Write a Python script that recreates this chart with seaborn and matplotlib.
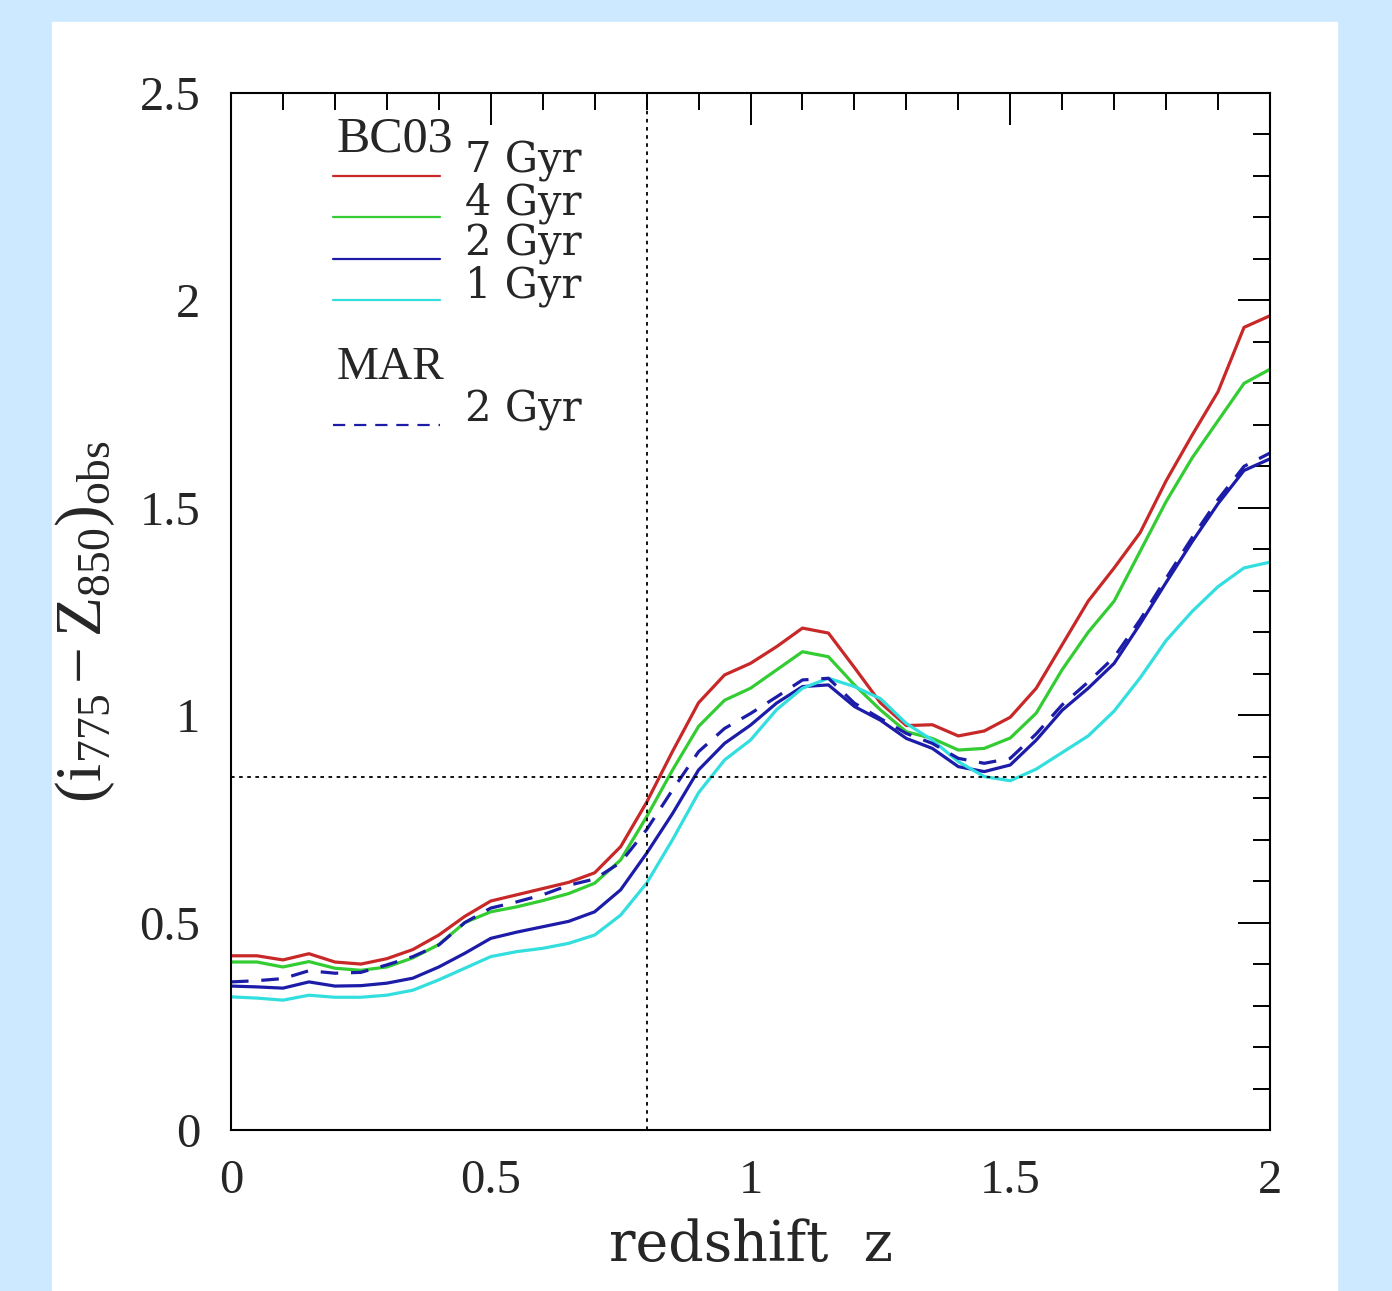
import numpy as np
import pandas as pd
import matplotlib
matplotlib.use("Agg")
import matplotlib.pyplot as plt
from matplotlib.ticker import MultipleLocator, FuncFormatter
from matplotlib.patches import Rectangle
import seaborn as sns

# data
redshift = [0.00, 0.05, 0.10, 0.15, 0.20, 0.25, 0.30, 0.35, 0.40, 0.45,
            0.50, 0.55, 0.60, 0.65, 0.70, 0.75, 0.80, 0.85, 0.90, 0.95,
            1.00, 1.05, 1.10, 1.15, 1.20, 1.25, 1.30, 1.35, 1.40, 1.45,
            1.50, 1.55, 1.60, 1.65, 1.70, 1.75, 1.80, 1.85, 1.90, 1.95, 2.00]

bc03_7gyr = [0.420, 0.420, 0.410, 0.425, 0.405, 0.400, 0.413, 0.435, 0.470, 0.515,
             0.552, 0.567, 0.582, 0.597, 0.620, 0.683, 0.790, 0.913, 1.030, 1.097,
             1.125, 1.165, 1.210, 1.198, 1.115, 1.030, 0.975, 0.977, 0.950, 0.962,
             0.995, 1.065, 1.170, 1.275, 1.355, 1.440, 1.565, 1.675, 1.780, 1.935, 1.963]

bc03_4gyr = [0.405, 0.405, 0.393, 0.406, 0.390, 0.385, 0.393, 0.415, 0.447, 0.500,
             0.526, 0.538, 0.553, 0.570, 0.595, 0.651, 0.755, 0.868, 0.973, 1.036,
             1.065, 1.109, 1.153, 1.141, 1.073, 1.013, 0.960, 0.944, 0.916, 0.920,
             0.945, 1.005, 1.110, 1.200, 1.275, 1.395, 1.515, 1.620, 1.710, 1.800, 1.834]

bc03_2gyr = [0.347, 0.345, 0.342, 0.357, 0.347, 0.348, 0.354, 0.366, 0.393, 0.426,
             0.462, 0.477, 0.490, 0.503, 0.526, 0.579, 0.667, 0.763, 0.868, 0.932,
             0.976, 1.029, 1.069, 1.073, 1.021, 0.988, 0.944, 0.920, 0.876, 0.864,
             0.880, 0.940, 1.012, 1.065, 1.125, 1.220, 1.320, 1.418, 1.510, 1.590, 1.618]

bc03_1gyr = [0.321, 0.318, 0.313, 0.325, 0.320, 0.320, 0.325, 0.337, 0.362, 0.390,
             0.418, 0.430, 0.438, 0.450, 0.470, 0.518, 0.595, 0.700, 0.813, 0.892,
             0.940, 1.013, 1.065, 1.089, 1.069, 1.040, 0.980, 0.940, 0.888, 0.852,
             0.842, 0.870, 0.910, 0.950, 1.010, 1.090, 1.180, 1.250, 1.310, 1.355, 1.369]

mar_2gyr = [0.357, 0.360, 0.365, 0.384, 0.378, 0.380, 0.398, 0.418, 0.446, 0.500,
            0.535, 0.550, 0.567, 0.590, 0.605, 0.645, 0.724, 0.820, 0.912, 0.968,
            1.004, 1.044, 1.085, 1.089, 1.029, 0.992, 0.956, 0.932, 0.896, 0.884,
            0.896, 0.955, 1.025, 1.080, 1.140, 1.230, 1.330, 1.428, 1.520, 1.600, 1.632]

bc03_labels = ["7 Gyr", "4 Gyr", "2 Gyr", "1 Gyr"]
mar_label = "2 Gyr"
z_cut = 0.8
color_cut = 0.85

RED = "#c82828"
GREEN = "#33cc33"
BLUE = "#1c1ca8"
CYAN = "#33dede"
DASH = (0, (5.5, 4))

sns.set_style("white")
plt.rcParams["font.family"] = ["Liberation Serif", "DejaVu Serif"]
plt.rcParams["mathtext.fontset"] = "custom"
plt.rcParams["mathtext.rm"] = "Liberation Serif"
plt.rcParams["mathtext.it"] = "Liberation Serif:italic"

fig = plt.figure(figsize=(13.92, 12.91), dpi=100, facecolor="#cce9ff")
fig.patches.append(Rectangle((52 / 1392, 0), (1337 - 52) / 1392, 1 - 22 / 1291,
                             transform=fig.transFigure, color="white", zorder=-10))
ax = fig.add_axes([231 / 1392, 1 - 1130 / 1291, (1270 - 231) / 1392, (1130 - 93) / 1291])
ax.set_facecolor("white")

df = pd.DataFrame({"z": redshift, "7": bc03_7gyr, "4": bc03_4gyr, "2": bc03_2gyr,
                   "1": bc03_1gyr, "mar": mar_2gyr})

lw = 2.3
sns.lineplot(data=df, x="z", y="7", color=RED, lw=lw, ax=ax)
sns.lineplot(data=df, x="z", y="4", color=GREEN, lw=lw, ax=ax)
sns.lineplot(data=df, x="z", y="2", color=BLUE, lw=lw, ax=ax)
sns.lineplot(data=df, x="z", y="1", color=CYAN, lw=lw, ax=ax)
sns.lineplot(data=df, x="z", y="mar", color=BLUE, lw=lw, linestyle=DASH, ax=ax)

ax.axvline(z_cut, color="black", lw=1.3, linestyle=(0, (2, 2.5)))
ax.axhline(color_cut, color="black", lw=1.3, linestyle=(0, (2, 2.5)))

ax.set_xlim(0, 2)
ax.set_ylim(0, 2.5)
ax.xaxis.set_major_locator(MultipleLocator(0.5))
ax.xaxis.set_minor_locator(MultipleLocator(0.1))
ax.yaxis.set_major_locator(MultipleLocator(0.5))
ax.yaxis.set_minor_locator(MultipleLocator(0.1))
fmt = FuncFormatter(lambda v, p: "%g" % v)
ax.xaxis.set_major_formatter(fmt)
ax.yaxis.set_major_formatter(fmt)
ax.tick_params(which="both", direction="in", top=True, right=True, width=1.4, color="black")
ax.tick_params(which="major", length=23)
ax.tick_params(which="minor", length=12)
ax.tick_params(axis="y", which="major", labelsize=35, pad=22)
ax.tick_params(axis="x", which="major", labelsize=35, pad=21)
for s in ax.spines.values():
    s.set_linewidth(1.5)
    s.set_color("black")

serif = ["DejaVu Serif"]
ax.set_xlabel("redshift  z", fontsize=40, family=serif)
ax.xaxis.set_label_coords(0.5, -0.085)
ax.set_ylabel(r"$(\mathrm{i}_{775}-\mathrm{Z}_{850})_{\mathrm{obs}}$", fontsize=47)
ax.yaxis.set_label_coords(-0.11, 0.49)

# legend drawn by hand, like the original
ax.text(0.102, 0.955, "BC03", transform=ax.transAxes, fontsize=36, va="center", ha="left")
line_y = [0.920, 0.880, 0.840, 0.800]
for yy, c, lab in zip(line_y, [RED, GREEN, BLUE, CYAN], bc03_labels):
    ax.plot([0.098, 0.201], [yy, yy], color=c, lw=1.6, transform=ax.transAxes)
    ax.text(0.225, yy + 0.014, lab, transform=ax.transAxes, fontsize=30,
            va="center", ha="left", family=serif)
ax.text(0.102, 0.735, "MAR", transform=ax.transAxes, fontsize=34, va="center", ha="left")
ax.plot([0.098, 0.201], [0.680, 0.680], color=BLUE, lw=1.6, linestyle=DASH,
        transform=ax.transAxes)
ax.text(0.225, 0.694, mar_label, transform=ax.transAxes, fontsize=30,
        va="center", ha="left", family=serif)

fig.savefig("out.png", dpi=100, facecolor=fig.get_facecolor())
